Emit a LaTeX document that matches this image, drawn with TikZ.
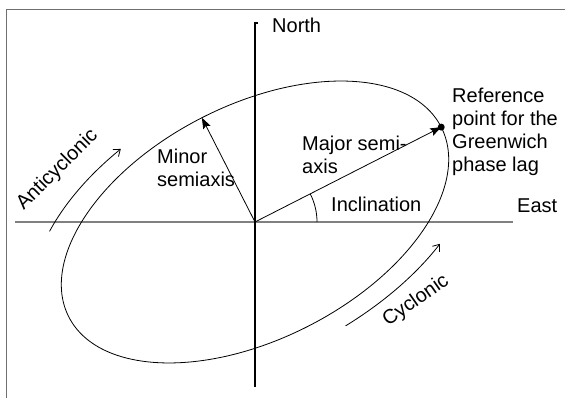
\documentclass[tikz,border=0pt]{standalone}
\usepackage{fontspec}
\setmainfont{Liberation Sans}
\usetikzlibrary{arrows.meta}
\definecolor{axisgray}{HTML}{808080}
\definecolor{framegray}{HTML}{707070}

\begin{document}
\begin{tikzpicture}[x=1pt,y=1pt,
  t/.style={inner sep=0pt,font=\fontsize{20}{23}\selectfont,align=left},
  ax/.style={line width=2pt},
  sa/.style={-{Stealth[length=11pt,width=8pt,inset=2pt]},line width=0.8pt},
  rot/.style={-{Straight Barb[length=6pt,width=9pt]},line width=0.8pt}
]
  \useasboundingbox (0,0) rectangle (565,398);
  % frame and axes
  \draw[framegray,line width=1.5pt] (6.5,0) -- (6.5,388.5) -- (565,388.5);
  \coordinate (O) at (255,176);
  \coordinate (W) at (15,176);
  \coordinate (E) at (513,176);
  \coordinate (N) at (255,375);
  \coordinate (S) at (255,11);
  \draw[ax,axisgray] (W) -- (E);
  \draw[ax] (N) ++(3,0) -- (N) -- (S);
  % tidal ellipse
  \draw[line width=0.8pt,rotate around={27:(O)}] (O) ellipse[x radius=209pt,y radius=117pt];
  \path (O) ++(27:209) coordinate (ref);
  \path (O) ++(117:117) coordinate (mi);
  \draw[sa] (O) -- (ref);
  \draw[sa] (O) -- (mi);
  \fill (ref) circle[radius=3.5pt];
  \draw[line width=0.8pt] (O) ++(62,0) arc[start angle=0,end angle=27,radius=62pt];
  % sense of rotation
  \begin{scope}[shift={(O)},rotate=27]
    \draw[rot] (141:241pt and 135pt) arc[start angle=141,end angle=111,x radius=241pt,y radius=135pt];
    \draw[rot] (-82:241pt and 135pt) arc[start angle=-82,end angle=-50,x radius=241pt,y radius=135pt];
  \end{scope}
  % labels
  \node[t,anchor=base west] (north) at (272,365) {North};
  \node[t,anchor=base west] (east) at (517,185) {East};
  \node[t,anchor=base west] (incl) at (331,186) {Inclination};
  \node[t,anchor=north west] (minor) at (157,249) {Minor\\semiaxis};
  \node[t,anchor=north west] (major) at (302,262) {Major semi-\\axis};
  \node[t,anchor=north west] (refl) at (452,310) {Reference\\point for the\\Greenwich\\phase lag};
  \node[t,rotate=45] (anti) at (57.5,228) {Anticyclonic};
  \node[t,rotate=35] (cyc) at (416,97) {Cyclonic};
\end{tikzpicture}
\end{document}
